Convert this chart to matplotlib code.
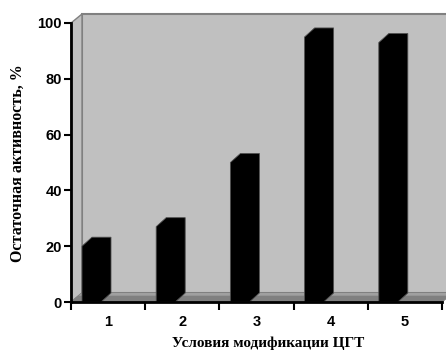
import numpy as np
import matplotlib
matplotlib.use('Agg')
import matplotlib.pyplot as plt
from matplotlib.patches import Polygon, Rectangle

# остаточная активность по условиям модификации
categories = ['1', '2', '3', '4', '5']
activity = [20, 27, 50, 95, 93]

yticks = [0, 20, 40, 60, 80, 100]

WALL = '#c0c0c0'
FLOOR = '#808080'
FLOOR_TOP = '#a0a0a0'
EDGE = '#808080'

fig = plt.figure(figsize=(4.46, 3.52), dpi=100)
ax = fig.add_axes([71 / 446, 50 / 352, 371 / 446, 279 / 352])

n = len(categories)
x_lo, x_hi = 0.5, n + 0.5
ax.set_xlim(x_lo, x_hi)
ax.set_ylim(0, 100)

# перевод пикселей в единицы данных
px_x = (x_hi - x_lo) / 371
px_y = 100 / 279
wdx, wdy = 11 * px_x, 9 * px_y      # глубина стен
bdx, bdy = 10 * px_x, 9 * px_y      # глубина столбцов
b_off, b_w = 11 * px_x, 19 * px_x

# задняя стенка
ax.add_patch(Rectangle((x_lo + wdx, wdy), (x_hi - x_lo) + 2 * wdx, 100,
                       facecolor=WALL, edgecolor=EDGE, lw=1.5,
                       clip_on=False, zorder=0.5))
# боковая стенка
ax.add_patch(Polygon([(x_lo, 0), (x_lo, 100), (x_lo + wdx, 100 + wdy),
                      (x_lo + wdx, wdy)], closed=True,
                     facecolor=WALL, edgecolor=EDGE, lw=1.0,
                     clip_on=False, zorder=0.6))
# пол
ax.add_patch(Polygon([(x_lo, 0), (x_hi, 0), (x_hi + wdx, wdy), (x_lo + wdx, wdy)],
                     closed=True, facecolor=FLOOR, edgecolor=EDGE, lw=0.8,
                     clip_on=False, zorder=0.7))
ax.add_patch(Polygon([(x_lo + wdx * 0.7, wdy * 0.7), (x_hi + wdx * 0.7, wdy * 0.7),
                      (x_hi + wdx, wdy), (x_lo + wdx, wdy)],
                     closed=True, facecolor=FLOOR_TOP, edgecolor='none',
                     clip_on=False, zorder=0.75))

# столбцы
for i, v in enumerate(activity):
    x0 = i + 1 - 0.5 + b_off
    x1 = x0 + b_w
    pts = [(x0, 0), (x0, v), (x0 + bdx, v + bdy), (x1 + bdx, v + bdy),
           (x1 + bdx, bdy), (x1, 0)]
    ax.add_patch(Polygon(pts, closed=True, facecolor='black',
                         edgecolor='#505050', lw=0.6, clip_on=False, zorder=2))

for s in ['top', 'right']:
    ax.spines[s].set_visible(False)
for s in ['left', 'bottom']:
    ax.spines[s].set_linewidth(2)
    ax.spines[s].set_zorder(3)
ax.set_facecolor('none')

ax.set_yticks(yticks)
ax.set_yticklabels([str(t) for t in yticks])
ax.tick_params(axis='y', direction='out', length=5, width=1.5, pad=1.5)

ax.set_xticks(np.arange(x_lo, x_hi + 0.01, 1.0))
ax.set_xticklabels([])
ax.set_xticks(np.arange(1, n + 1), minor=True)
ax.set_xticklabels(categories, minor=True)
ax.tick_params(axis='x', which='major', direction='out', length=6, width=1.5)
ax.tick_params(axis='x', which='minor', length=0, pad=9)

for lab in ax.get_yticklabels() + ax.get_xticklabels(minor=True):
    lab.set_fontfamily('Liberation Sans')
    lab.set_fontweight('bold')
    lab.set_fontsize(10.5)

fig.text(268 / 446, 1 - 343 / 352, 'Условия модификации ЦГТ',
         ha='center', va='center', family='Liberation Serif',
         fontweight='bold', fontsize=11)
fig.text(18 / 446, 1 - 163 / 352, 'Остаточная активность, %',
         ha='center', va='center', rotation=90, family='Liberation Serif',
         fontweight='bold', fontsize=11.5)

fig.savefig('out.png', dpi=100)
